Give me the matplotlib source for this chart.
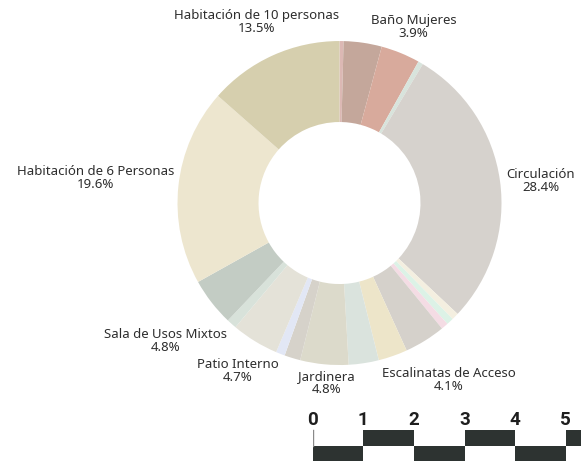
import numpy as np
import matplotlib.pyplot as plt

# Superficie por espacio (%), en sentido horario desde las 12
espacios = ['', '', 'Baño Mujeres', '', 'Circulación', '', '', '',
            'Escalinatas de Acceso', '', '', 'Jardinera', '', '',
            'Patio Interno', '', 'Sala de Usos Mixtos',
            'Habitación de 6 Personas', 'Habitación de 10 personas']
porcentajes = [0.4, 3.8, 3.9, 0.5, 28.4, 0.7, 0.7, 0.7, 4.1, 2.9, 3.0,
               4.8, 1.6, 0.9, 4.7, 1.0, 4.8, 19.6, 13.5]
colores = ['#dcb8b4', '#c4a79b', '#d8aa9c', '#d8e4dc', '#d6d2cd',
           '#f4efe0', '#dcf2e6', '#f4dce4', '#d5d1cb', '#ede5c9',
           '#dae3dd', '#dcdacb', '#d6d2ca', '#e2e7f5', '#e4e2d8',
           '#d8e2da', '#c3ccc4', '#ede6cf', '#d6cfae']

# desplazamiento de cada etiqueta respecto al borde exterior (pixeles)
desplazamientos = {
    'Habitación de 10 personas': (-16, 33),
    'Baño Mujeres': (13, 26),
    'Circulación': (41, 0),
    'Escalinatas de Acceso': (24, -39),
    'Jardinera': (2, -19),
    'Patio Interno': (-17, -30),
    'Sala de Usos Mixtos': (-46, -39),
    'Habitación de 6 Personas': (-83, 8),
}

escala = [0, 1, 2, 3, 4, 5]

plt.rcParams['font.family'] = ['Noto Sans', 'DejaVu Sans']

fig = plt.figure(figsize=(5.81, 4.69), dpi=100)
ax = fig.add_axes([0.3055, 0.2217, 0.5577, 0.6908])

wedges, _ = ax.pie(porcentajes, colors=colores, startangle=90, counterclock=False,
                   radius=1, wedgeprops=dict(width=0.5, linewidth=0))
ax.set_xlim(-1, 1)
ax.set_ylim(-1, 1)
ax.set_aspect('equal')
ax.axis('off')

for w, nombre, p in zip(wedges, espacios, porcentajes):
    if not nombre:
        continue
    ang = np.deg2rad((w.theta1 + w.theta2) / 2)
    ax.annotate(f'{nombre}\n{p:.1f}%', xy=(np.cos(ang), np.sin(ang)),
                xytext=desplazamientos[nombre], textcoords='offset pixels',
                ha='center', va='center', fontsize=9.5, color='#2e2e2e',
                linespacing=1.0, annotation_clip=False)

# barra de escala gráfica
axs = fig.add_axes([312.7 / 581, 8 / 469, 268.3 / 581, 53 / 469])
axs.set_xlim(0, 268.3 / 50.6)
axs.set_ylim(0, 53 / 15.5)
axs.axis('off')
bases = [i % 2 for i in range(len(escala) + 1)]
axs.bar(range(len(escala) + 1), 1, bottom=bases, width=1, align='edge',
        color='#2d3331', linewidth=0)
axs.plot([0, 0], [1, 2], color='#8a8a8a', linewidth=1)
for n in escala:
    axs.text(n, 2.62, str(n), ha='center', va='center', fontsize=13.5,
             fontweight='bold', family=['Roboto', 'DejaVu Sans'],
             color='#1e1e1e', clip_on=False)

fig.savefig('out.png', dpi=100)
